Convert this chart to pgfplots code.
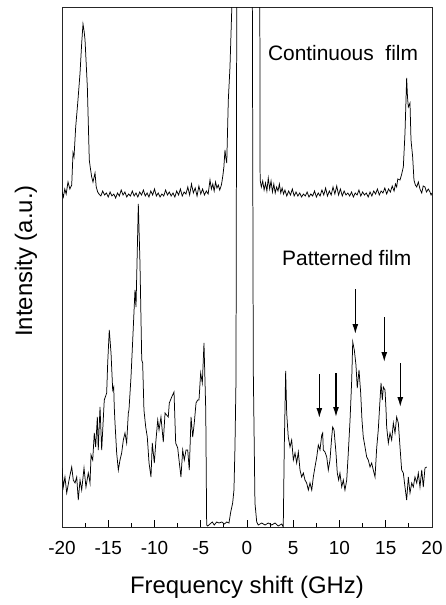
\documentclass[border=0pt]{standalone}
\usepackage{fontspec}
\setmainfont{Liberation Sans}
\usepackage{pgfplots}
\pgfplotsset{compat=1.18}
\usetikzlibrary{arrows.meta}
\begin{document}
\begin{tikzpicture}
\useasboundingbox (-62bp,-78bp) rectangle (384bp,527bp);
\begin{axis}[
 at={(0,0)}, anchor=south west,
 scale only axis, width=370bp, height=520bp,
 xmin=-20, xmax=20, ymin=0, ymax=520,
 xtick={-20,-15,...,20}, xticklabels={-20,-15,-10,-5,0,5,10,15,20},
 minor x tick num=1,
 ytick=\empty,
 xtick pos=left, tick align=inside,
 major tick length=7bp, minor tick length=4bp,
 axis line style={line width=0.9pt, black!85},
 every tick/.style={line width=0.9pt, black},
 xticklabel style={font=\fontsize{19}{22}\selectfont, anchor=base, yshift=-27bp},
]
% Continuous film
\addplot[black, line width=0.75pt] coordinates {
(-20.00,335) (-19.85,330) (-19.70,338) (-19.55,333) (-19.35,345) (-19.15,338) (-18.95,342)
(-18.81,374) (-18.70,370) (-18.52,400) (-18.30,424) (-18.05,454) (-17.87,484) (-17.73,503)
(-17.60,495) (-17.51,487) (-17.26,440) (-17.05,367) (-16.95,360) (-16.79,350) (-16.65,345)
(-16.43,354) (-16.30,340) (-16.14,335) (-16.00,333)
(-15.8,331) (-15.6,336) (-15.4,332) (-15.2,334) (-15.0,330) (-14.8,335) (-14.6,331) (-14.4,333)
(-14.2,329) (-14.0,334) (-13.8,331) (-13.6,337) (-13.4,332) (-13.2,335) (-13.0,330) (-12.8,333)
(-12.6,331) (-12.4,336) (-12.2,331) (-12.0,334) (-11.8,330) (-11.6,335) (-11.4,332) (-11.2,337)
(-11.0,331) (-10.8,334) (-10.6,330) (-10.4,336) (-10.2,332) (-10.0,338) (-9.8,331) (-9.6,334)
(-9.4,330) (-9.2,333) (-9.0,331) (-8.8,337) (-8.6,332) (-8.4,335) (-8.2,331) (-8.0,334)
(-7.8,330) (-7.6,336) (-7.4,332) (-7.2,338) (-7.0,331) (-6.8,335) (-6.6,333) (-6.4,340)
(-6.2,332) (-6.0,343) (-5.8,334) (-5.6,339) (-5.4,331) (-5.2,341) (-5.0,333) (-4.8,338)
(-4.6,332) (-4.4,336) (-4.2,333) (-4.0,347) (-3.85,338) (-3.7,343) (-3.55,336) (-3.4,345)
(-3.25,339) (-3.1,342) (-2.95,337) (-2.8,341) (-2.73,344) (-2.6,352) (-2.5,360) (-2.38,377)
(-2.3,370) (-2.19,364) (-2.02,427) (-1.84,460) (-1.65,517) (-1.5,650) (-1.3,800)
(1.2,800) (1.35,700) (1.42,347) (1.55,340) (1.7,346) (1.85,337) (2.0,344) (2.15,336) (2.3,349)
(2.45,338) (2.6,346) (2.75,335) (2.9,343) (3.05,334) (3.2,340) (3.35,336) (3.5,343) (3.65,334)
(3.8,339) (3.95,333) (4.1,337) (4.3,331) (4.5,336) (4.7,332) (4.9,338) (5.1,331) (5.3,335)
(5.5,331) (5.7,334) (5.9,330) (6.1,333) (6.3,331) (6.5,335) (6.7,330) (6.9,333) (7.1,331)
(7.3,336) (7.5,330) (7.7,334) (7.9,331) (8.1,337) (8.3,332) (8.5,339) (8.7,331) (8.9,336)
(9.1,332) (9.3,340) (9.5,333) (9.7,341) (9.9,332) (10.1,338) (10.3,331) (10.5,336) (10.7,332)
(10.9,334) (11.1,331) (11.3,335) (11.5,330) (11.7,334) (11.9,332) (12.1,337) (12.3,331)
(12.5,335) (12.7,332) (12.9,334) (13.1,330) (13.3,335) (13.5,331) (13.7,336) (13.9,333)
(14.1,338) (14.3,332) (14.5,336) (14.7,334) (14.9,339) (15.1,333) (15.3,338) (15.5,335)
(15.7,341) (15.9,336) (16.05,343) (16.18,340) (16.3,348) (16.54,347) (16.7,352) (16.9,360)
(17.08,394) (17.26,449) (17.35,430) (17.44,420) (17.62,424) (17.73,387) (17.91,370) (18.05,347)
(18.2,342) (18.35,340) (18.52,345) (18.7,338) (18.89,334) (19.05,341) (19.24,340) (19.4,335)
(19.6,338) (19.78,335) (19.9,332) (20.0,334)
};
% Patterned film
\addplot[black, line width=0.75pt] coordinates {
(-20.00,59) (-19.86,40) (-19.68,50) (-19.49,34) (-19.24,47) (-18.95,60) (-18.78,47) (-18.59,44)
(-18.41,50) (-18.24,27) (-18.05,47) (-17.87,37) (-17.62,59) (-17.41,40) (-17.16,54) (-16.97,44)
(-16.86,72) (-16.68,67) (-16.51,94) (-16.36,80) (-16.18,110) (-16.08,77) (-15.89,120) (-15.71,77)
(-15.43,127) (-15.17,134) (-15.06,164) (-14.89,197) (-14.70,174) (-14.52,137) (-14.41,140)
(-14.35,120) (-14.27,104) (-14.09,74) (-13.91,57) (-13.73,67) (-13.55,74) (-13.37,87) (-13.19,94)
(-13.01,84) (-12.83,114) (-12.76,117) (-12.54,150) (-12.29,200) (-12.11,237) (-12.00,220)
(-11.89,264) (-11.75,323) (-11.57,264) (-11.38,167) (-11.28,164) (-11.14,117) (-10.95,100)
(-10.78,90) (-10.59,64) (-10.38,50) (-10.24,84) (-10.02,64) (-9.84,87) (-9.65,107) (-9.51,97)
(-9.30,110) (-9.05,85) (-8.86,114) (-8.51,110) (-8.40,124) (-8.14,130) (-7.89,135) (-7.71,84)
(-7.49,79) (-7.35,67) (-7.14,50) (-6.95,77) (-6.78,67) (-6.59,77) (-6.41,77) (-6.24,57)
(-6.05,110) (-5.87,90) (-5.70,104) (-5.51,124) (-5.33,127) (-5.19,127) (-5.01,154) (-4.83,144)
(-4.65,184) (-4.46,117) (-4.36,2) (-4.25,1) (-4.0,3) (-3.75,5) (-3.54,2) (-3.28,5) (-3.03,4)
(-2.73,5) (-2.45,3) (-2.19,5) (-1.95,4) (-1.76,15) (-1.55,24) (-1.41,37) (-1.30,80) (-1.19,147)
(-1.11,520) (-1.05,700) (0.5,700) (0.58,520) (0.68,157) (0.86,24) (1.05,5)
(1.22,2) (1.59,4) (1.95,2) (2.30,4) (2.67,2) (3.03,4) (3.38,1) (3.75,3) (3.92,0)
(4.03,80) (4.18,156) (4.29,114) (4.46,90) (4.65,80) (4.83,87) (5.01,67) (5.19,74) (5.37,64)
(5.55,75) (5.73,57) (5.91,50) (6.09,54) (6.27,47) (6.45,44) (6.63,37) (6.81,44) (7.0,37)
(7.17,50) (7.35,60) (7.54,70) (7.71,82) (7.89,77) (8.08,92) (8.18,94) (8.25,77) (8.43,75)
(8.62,70) (8.79,57) (8.97,67) (9.16,90) (9.26,100) (9.41,97) (9.62,74) (9.76,54) (9.91,47)
(10.05,54) (10.24,40) (10.41,47) (10.59,37) (10.78,47) (10.95,74) (11.14,107) (11.32,147)
(11.43,185) (11.60,177) (11.78,162) (11.92,139) (12.11,157) (12.29,134) (12.43,107) (12.57,90)
(12.76,80) (12.94,70) (13.11,67) (13.30,60) (13.48,64) (13.65,57) (13.84,50) (14.02,79)
(14.19,97) (14.38,127) (14.49,144) (14.63,127) (14.74,140) (14.92,137) (15.03,117) (15.10,100)
(15.28,84) (15.46,94) (15.64,87) (15.82,104) (16.0,94) (16.18,110) (16.36,104) (16.54,80)
(16.72,57) (16.90,54) (17.08,40) (17.26,27) (17.44,50) (17.62,34) (17.81,44) (17.98,40)
(18.16,50) (18.35,44) (18.52,54) (18.70,40) (18.89,57) (19.06,40) (19.24,59) (19.43,60)
};
% arrows
\draw[line width=1.3pt, -{Latex[length=10bp,width=6bp]}] (axis cs:7.82,153) -- (axis cs:7.82,109);
\draw[line width=1.3pt, -{Latex[length=10bp,width=6bp]}] (axis cs:9.62,154) -- (axis cs:9.62,110);
\draw[line width=1.3pt, -{Latex[length=10bp,width=6bp]}] (axis cs:11.71,238) -- (axis cs:11.71,193);
\draw[line width=1.3pt, -{Latex[length=10bp,width=6bp]}] (axis cs:14.84,210) -- (axis cs:14.84,165);
\draw[line width=1.3pt, -{Latex[length=10bp,width=6bp]}] (axis cs:16.57,164) -- (axis cs:16.57,120);
\node[anchor=base, font=\fontsize{21}{25}\selectfont] at (axis cs:10.38,467) {Continuous\ \ film};
\node[anchor=base, font=\fontsize{21}{25}\selectfont] at (axis cs:10.78,262) {Patterned film};
\end{axis}
\node[anchor=base, font=\fontsize{24}{28}\selectfont] at (185bp,-66bp) {Frequency shift (GHz)};
\node[rotate=90, anchor=base, font=\fontsize{24}{28}\selectfont] at (-30bp,266bp) {Intensity (a.u.)};
\end{tikzpicture}
\end{document}
